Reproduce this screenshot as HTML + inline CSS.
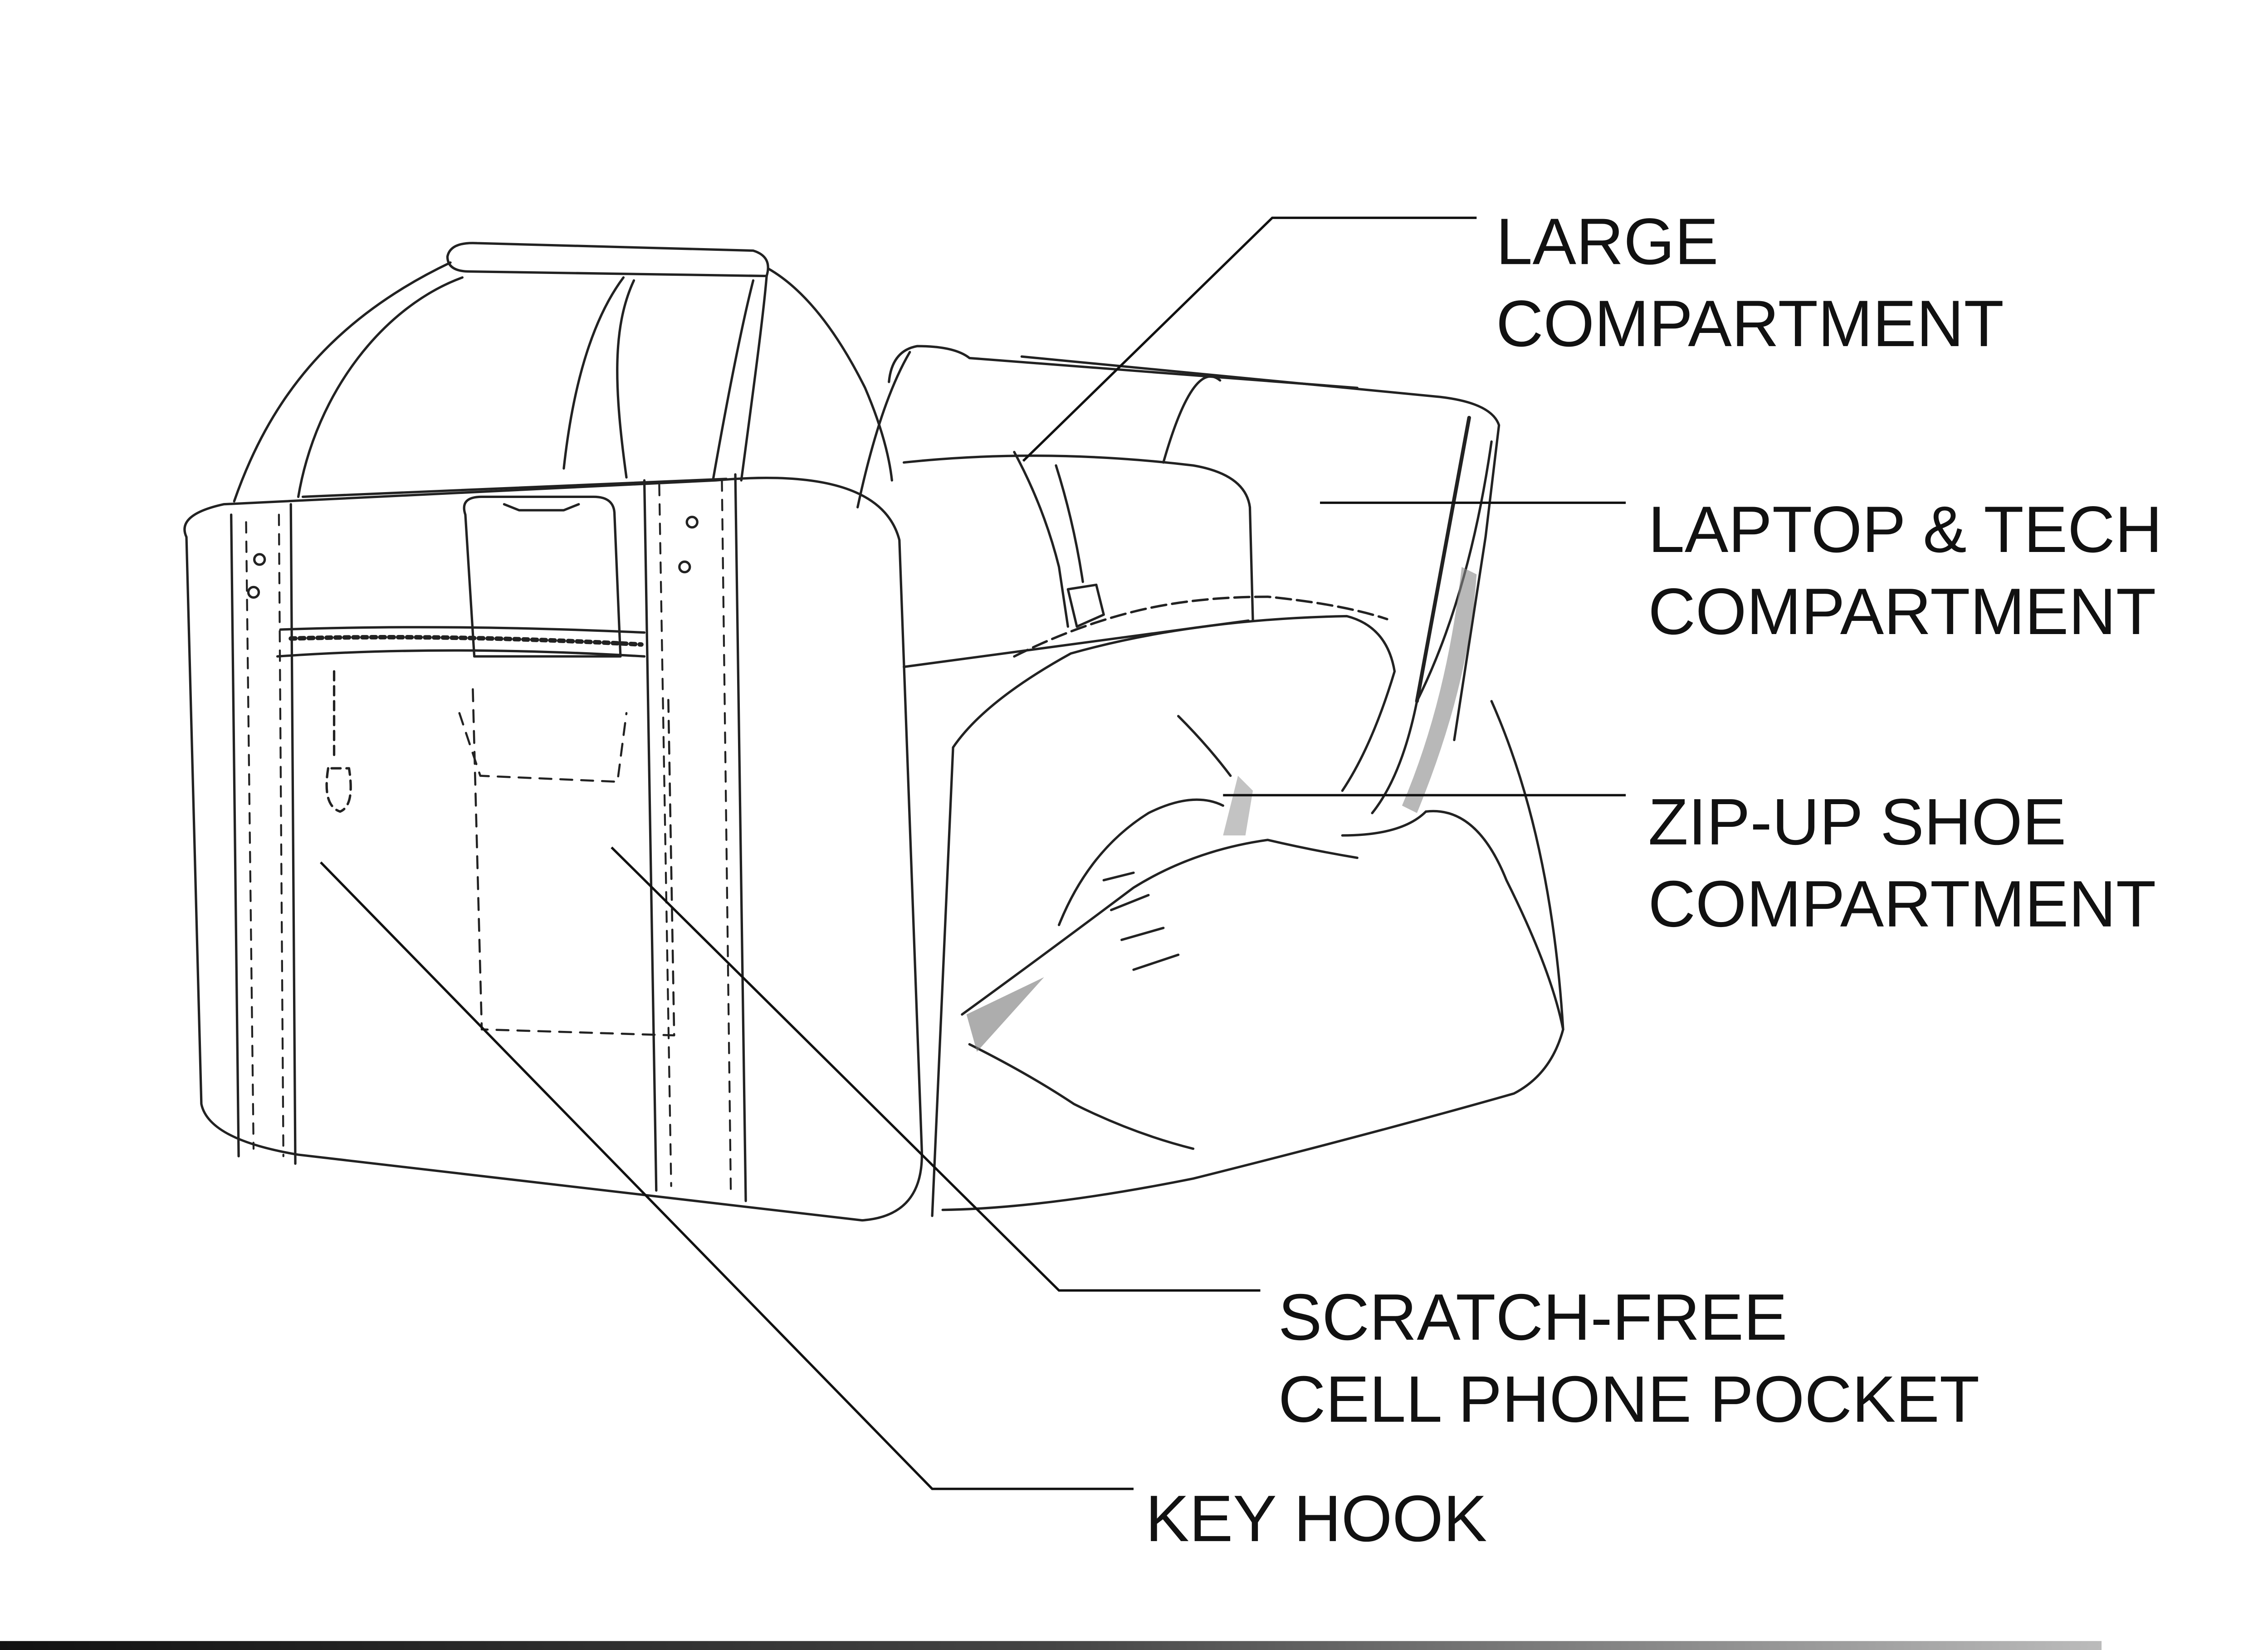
<!DOCTYPE html>
<html><head><meta charset="utf-8">
<style>
html,body{margin:0;padding:0;background:#fff;}
svg{display:block;width:5146px;height:3638px;}
text{font-family:"Liberation Sans",sans-serif;font-size:44px;fill:#111;}
</style></head>
<body>
<svg viewBox="0 0 1565 1106" preserveAspectRatio="none" xmlns="http://www.w3.org/2000/svg">
<defs>
<linearGradient id="bar" x1="0" x2="1" y1="0" y2="0">
<stop offset="0" stop-color="#111"/><stop offset="0.5" stop-color="#444"/><stop offset="1" stop-color="#bbb"/>
</linearGradient>
</defs>
<rect width="1565" height="1106" fill="#fff"/>
<g fill="none" stroke="#222" stroke-width="1.6" stroke-linecap="round" stroke-linejoin="round">
<!-- back body -->
<path d="M596,256 Q598,235 615,232 Q640,232 650,240 L910,260"/>
<path d="M685,239 L965,266 Q1000,270 1005,285 L996,360 L975,496"/>
<path d="M985,280 L950,470" stroke-width="2.5"/>
<path d="M575,340 Q590,270 610,236"/>
<!-- laptop roll -->
<path d="M606,310 Q700,300 800,312 Q835,318 838,340 L840,416"/>
<path d="M606,447 L837,416"/>
<path d="M680,303 Q700,340 710,380 L716,420"/>
<path d="M708,312 Q720,350 726,390"/>
<path d="M716,395 L735,392 L740,412 L722,420 Z"/>
<path d="M780,310 Q800,240 818,255" />
<!-- front panel -->
<path d="M125,360 Q118,345 150,338 L480,322 Q590,312 603,362 L618,770 Q620,815 578,818 L200,774 Q140,764 135,740 Z"/>
<path d="M203,333 L487,321"/>
<!-- handles -->
<path d="M300,172 Q302,162 320,163 L505,168 Q518,172 514,185 L315,182 Q300,182 300,172 Z"/>
<path d="M157,336 C180,270 220,215 302,176"/>
<path d="M200,333 C212,262 258,205 310,186"/>
<path d="M497,322 C505,262 512,210 514,185"/>
<path d="M478,322 C488,265 498,215 505,188"/>
<path d="M378,314 C385,250 400,210 418,186"/>
<path d="M420,320 C412,262 410,220 425,188"/>
<path d="M515,180 Q550,200 580,260 Q595,295 598,322"/>
<!-- straps -->
<path d="M155,345 L160,775"/><path d="M195,338 L198,780"/>
<path d="M432,322 L440,798"/><path d="M493,318 L500,805"/>
<path d="M165,350 L170,770 M187,345 L190,775 M442,325 L450,795 M484,322 L490,800" stroke-dasharray="7,6" stroke-width="1.3"/>
<circle cx="174" cy="375" r="3.5"/><circle cx="170" cy="397" r="3.5"/>
<circle cx="464" cy="350" r="3.5"/><circle cx="459" cy="380" r="3.5"/>
<!-- phone -->
<path d="M312,345 Q308,333 323,333 L398,333 Q412,333 412,345 L416,440 L318,440 Z"/>
<path d="M338,338 L348,342 L378,342 L388,338"/>
<!-- zipper -->
<path d="M188,422 Q300,418 432,424"/>
<path d="M195,428 Q300,425 430,432" stroke-dasharray="3,3" stroke-width="3"/>
<path d="M186,440 Q300,432 432,440"/>
<!-- pocket -->
<path d="M317,462 L323,690 L452,694 L448,464" stroke-dasharray="8,6" stroke-width="1.4"/>
<path d="M308,478 L322,520 L414,524 L420,478" stroke-dasharray="8,6" stroke-width="1.4"/>
<!-- key hook -->
<path d="M224,450 L224,510 M220,515 Q216,540 228,544 Q238,540 234,515 Z" stroke-dasharray="6,4"/>
<!-- shoe compartment -->
<path d="M639,501 Q660,470 718,438 Q800,415 903,413 Q930,420 935,450 Q920,500 900,530"/>
<path d="M680,440 Q720,420 760,410 Q800,400 850,400 Q900,405 930,415" stroke-dasharray="10,4"/>
<path d="M1000,296 Q985,400 950,470 Q940,520 920,545"/>
<path d="M956,544 Q990,540 1010,590 Q1040,650 1048,690 Q1040,720 1015,733 Q920,760 800,790 Q700,810 632,811"/>
<path d="M900,560 Q940,560 956,544"/>
<path d="M639,501 L625,815"/>
<path d="M645,680 Q700,640 760,595 Q800,570 850,563 Q880,570 910,575"/>
<path d="M650,700 Q690,720 720,740 Q760,760 800,770"/>
<path d="M710,620 Q730,570 770,545 Q800,530 820,540"/>
<path d="M740,590 L760,585 M745,610 L770,600 M752,630 L780,622 M760,650 L790,640"/>
<path d="M790,480 Q810,500 825,520"/>
<path d="M1000,470 Q1040,560 1048,690"/>
</g>
<!-- shaded zipper bands -->
<path d="M990,385 Q985,460 950,545 L940,540 Q970,470 980,380 Z" fill="#888" opacity="0.6"/>
<path d="M648,680 L700,655 L655,705 Z" fill="#777" opacity="0.6"/>
<path d="M830,520 L840,530 L835,560 L820,560 Z" fill="#888" opacity="0.5"/>
<!-- leader lines -->
<g fill="none" stroke="#111" stroke-width="1.6">
<polyline points="990,146 853,146 686,309"/>
<polyline points="1090,337 885,337"/>
<polyline points="1090,533 820,533"/>
<polyline points="845,865 710,865 410,568"/>
<polyline points="760,998 625,998 215,578"/>
</g>
<text x="1003" y="177">LARGE</text>
<text x="1003" y="232">COMPARTMENT</text>
<text x="1105" y="370">LAPTOP &amp; TECH</text>
<text x="1105" y="425">COMPARTMENT</text>
<text x="1105" y="566">ZIP-UP SHOE</text>
<text x="1105" y="621">COMPARTMENT</text>
<text x="857" y="898">SCRATCH-FREE</text>
<text x="857" y="953">CELL PHONE POCKET</text>
<text x="768" y="1033">KEY HOOK</text>
<rect x="0" y="1100" width="1409" height="6" fill="url(#bar)"/>
</svg>
</body></html>
